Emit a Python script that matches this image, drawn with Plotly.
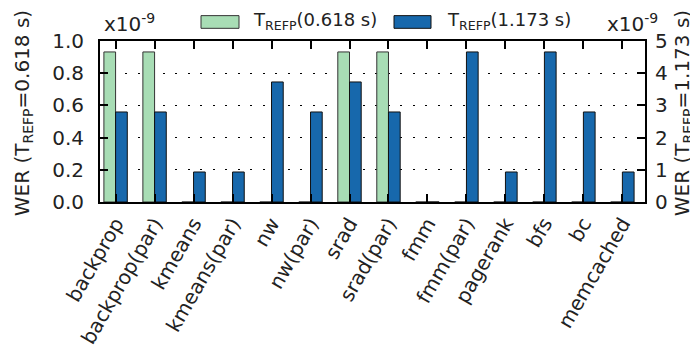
import plotly.graph_objects as go

categories = ["backprop", "backprop(par)", "kmeans", "kmeans(par)", "nw", "nw(par)",
              "srad", "srad(par)", "fmm", "fmm(par)", "pagerank", "bfs", "bc", "memcached"]
wer_0618 = [0.932, 0.932, 0, 0, 0, 0, 0.932, 0.932, 0, 0, 0, 0, 0, 0]          # x1e-9, left axis
wer_1173 = [2.796, 2.796, 0.932, 0.932, 3.728, 2.796, 3.728, 2.796, 0, 4.66,
            0.932, 4.66, 2.796, 0.932]                                          # x1e-9, right axis
left_ticks = [0.0, 0.2, 0.4, 0.6, 0.8, 1.0]
right_ticks = [0, 1, 2, 3, 4, 5]

GREEN = "#a8ddb5"
BLUE = "#1768ac"
FONT = "DejaVu Sans"
TXT = "#222222"

W, H = 698, 352
ML, MR, MT, MB = 92, 61, 33, 154
PW = W - ML - MR
PH = H - MT - MB

def px(p):
    return (p - ML) / PW

def py(p):
    return (H - MB - p) / PH

xs = list(range(len(categories)))

fig = go.Figure()
fig.add_trace(go.Bar(x=xs, y=wer_0618, width=0.3, offset=-0.3, marker=dict(color=GREEN, line=dict(color="#333333", width=1)),
                     name="T_REFP(0.618 s)", yaxis="y", showlegend=False))
fig.add_trace(go.Bar(x=xs, y=wer_1173, width=0.3, offset=0.0, marker=dict(color=BLUE, line=dict(color="#111111", width=1)),
                     name="T_REFP(1.173 s)", yaxis="y2", showlegend=False))

fig.update_layout(
    width=W, height=H,
    margin=dict(l=ML, r=MR, t=MT, b=MB, pad=0),
    paper_bgcolor="white", plot_bgcolor="white",
    font=dict(family=FONT, size=20, color=TXT),
    barmode="overlay",
    xaxis=dict(range=[-0.4, 13.58], tickvals=xs, ticktext=categories, tickangle=-60,
               ticks="inside", ticklen=8, tickwidth=1.5, tickcolor="black",
               showline=True, linecolor="black", linewidth=2, mirror="ticks",
               showgrid=False, zeroline=False, tickfont=dict(size=20),
               layer="above traces"),
    yaxis=dict(range=[0, 1.0], tickvals=left_ticks, ticktext=[f"{v:.1f}" for v in left_ticks],
               ticks="inside", ticklen=8, tickwidth=1.5, tickcolor="black",
               showline=True, linecolor="black", linewidth=2, mirror=True,
               showgrid=True, gridcolor="black", gridwidth=1, griddash="2px,10.5px",
               zeroline=False, ticklabelstandoff=10, layer="above traces"),
    yaxis2=dict(range=[0, 5], tickvals=right_ticks, overlaying="y", side="right",
                ticks="inside", ticklen=8, tickwidth=1.5, tickcolor="black",
                showline=False, showgrid=False, zeroline=False, ticklabelstandoff=9),
)

annotations = [
    dict(text="x10<sup>-9</sup>", x=px(94), y=py(30), xanchor="left", yanchor="bottom"),
    dict(text="x10<sup>-9</sup>", x=px(597), y=py(30), xanchor="left", yanchor="bottom"),
    dict(text="WER (T<sub>REFP</sub>=0.618 s)", x=px(15), y=py(107), textangle=-90,
         xanchor="center", yanchor="middle"),
    dict(text="WER (T<sub>REFP</sub>=1.173 s)", x=px(675), y=py(107), textangle=-90,
         xanchor="center", yanchor="middle"),
    dict(text="T<sub>REFP</sub>(0.618 s)", x=px(243), y=py(13), xanchor="left", yanchor="middle",
         font=dict(size=18)),
    dict(text="T<sub>REFP</sub>(1.173 s)", x=px(437), y=py(13), xanchor="left", yanchor="middle",
         font=dict(size=18)),
]
for a in annotations:
    a.setdefault("font", dict(size=20))
    a.update(xref="paper", yref="paper", showarrow=False)
fig.update_layout(annotations=annotations)

fig.add_shape(type="rect", xref="paper", yref="paper", x0=px(193), x1=px(231), y0=py(20), y1=py(7),
              fillcolor=GREEN, line=dict(color="#333333", width=1))
fig.add_shape(type="rect", xref="paper", yref="paper", x0=px(386), x1=px(423), y0=py(20), y1=py(7),
              fillcolor=BLUE, line=dict(color="#111111", width=1))

fig.write_html("out.html")
